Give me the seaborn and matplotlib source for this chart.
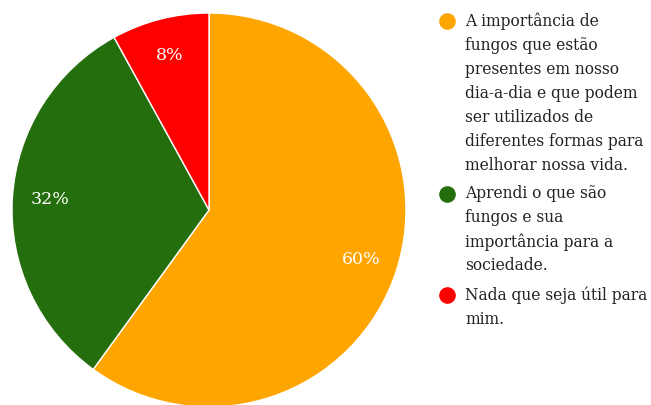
import matplotlib
matplotlib.use("Agg")
import matplotlib.pyplot as plt
import seaborn as sns

# data
shares = [60, 32, 8]
labels = [
    "A importância de\nfungos que estão\npresentes em nosso\ndia-a-dia e que podem\nser utilizados de\ndiferentes formas para\nmelhorar nossa vida.",
    "Aprendi o que são\nfungos e sua\nimportância para a\nsociedade.",
    "Nada que seja útil para\nmim.",
]
colors = ["#FFA500", "#246E0E", "#FF0000"]

sns.set_style("white")
plt.rcParams["font.family"] = ["DejaVu Serif"]

fig = plt.figure(figsize=(6.51, 4.05), dpi=100)
ax = fig.add_axes([0, 0, 1, 1])

wedges, texts, autotexts = ax.pie(
    shares,
    colors=colors,
    startangle=90,
    counterclock=False,
    center=(209, 195),
    radius=197,
    autopct="%d%%",
    pctdistance=0.81,
    frame=True,
    wedgeprops=dict(edgecolor="white", linewidth=1),
    textprops=dict(color="white", fontsize=12.5),
)
ax.set_xlim(0, 651)
ax.set_ylim(0, 405)
ax.axis("off")

# legend, drawn by hand line by line so the dot sits on the first line
y = 405 - 21
for lab, col in zip(labels, colors):
    ax.scatter([447], [y], s=120, color=col, zorder=3)
    for line in lab.split("\n"):
        ax.text(465, y + 2, line, fontsize=11.2, color="#222222",
                va="center_baseline")
        y -= 24
    y -= 5

fig.savefig("out.png", dpi=100)
